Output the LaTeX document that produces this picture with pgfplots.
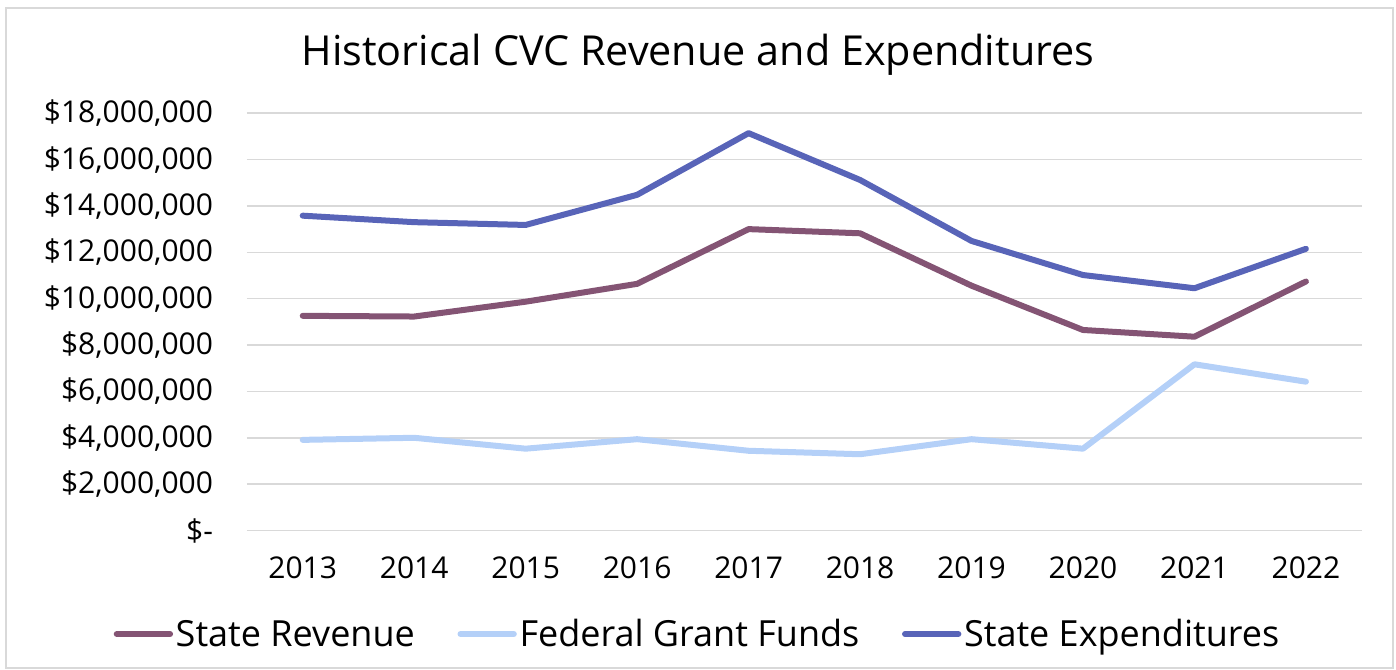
\documentclass[border=0pt]{standalone}
\usepackage{fontspec}
\setmainfont{Open Sans}
\usepackage{pgfplots}
\pgfplotsset{compat=1.18}
\definecolor{rev}{HTML}{845474}
\definecolor{fed}{HTML}{B4D0F8}
\definecolor{exp}{HTML}{5864B8}
\definecolor{gridc}{HTML}{D9D9D9}
\begin{document}
\begin{tikzpicture}
\path[use as bounding box] (-185.25pt,-104.6pt) rectangle (861.75pt,397.9pt);
\draw[gridc, line width=1.5pt] (-180.75pt,-103pt) rectangle (859.5pt,392pt);
\begin{axis}[
  at={(0,0)}, anchor=south west, scale only axis,
  width=836pt, height=313pt,
  xmin=-0.5, xmax=9.5, ymin=0, ymax=18000000,
  scaled y ticks=false,
  xtick={0,...,9},
  xticklabels={2013,2014,2015,2016,2017,2018,2019,2020,2021,2022},
  ytick={0,2000000,4000000,6000000,8000000,10000000,12000000,14000000,16000000,18000000},
  yticklabels={{\$-\hspace{15pt}},{\$2,000,000},{\$4,000,000},{\$6,000,000},{\$8,000,000},{\$10,000,000},{\$12,000,000},{\$14,000,000},{\$16,000,000},{\$18,000,000}},
  ymajorgrids, grid style={gridc, line width=1.2pt},
  axis line style={draw=none}, major tick length=0pt,
  tick label style={font=\fontsize{22.5}{26}\selectfont},
  yticklabel style={anchor=east, xshift=-22pt},
  xticklabel style={anchor=north, yshift=-16pt},
  legend columns=3,
  legend style={at={(0.4045,-0.248)}, anchor=center, draw=none, fill=none,
    font=\fontsize{27}{32}\selectfont,
    /tikz/every even column/.append style={column sep=30pt},
    nodes={inner sep=2pt}},
  legend image code/.code={\draw[line width=4.5pt, line cap=round] (0pt,0pt) -- (40pt,0pt);},
  every axis plot/.append style={line width=4.5pt, line join=round, line cap=round},
]
\addplot[rev] coordinates {(0,9260000) (1,9230000) (2,9870000) (3,10640000) (4,13000000) (5,12820000) (6,10560000) (7,8650000) (8,8360000) (9,10740000)};
\addlegendentry{State Revenue}
\addplot[fed] coordinates {(0,3910000) (1,4000000) (2,3530000) (3,3940000) (4,3440000) (5,3290000) (6,3940000) (7,3530000) (8,7170000) (9,6420000)};
\addlegendentry{Federal Grant Funds}
\addplot[exp] coordinates {(0,13580000) (1,13300000) (2,13180000) (3,14480000) (4,17140000) (5,15120000) (6,12490000) (7,11020000) (8,10450000) (9,12150000)};
\addlegendentry{State Expenditures}
\end{axis}
\node[font=\fontsize{31}{38}\selectfont] at (338.25pt,356.7pt) {Historical CVC Revenue and Expenditures};
\end{tikzpicture}
\end{document}
